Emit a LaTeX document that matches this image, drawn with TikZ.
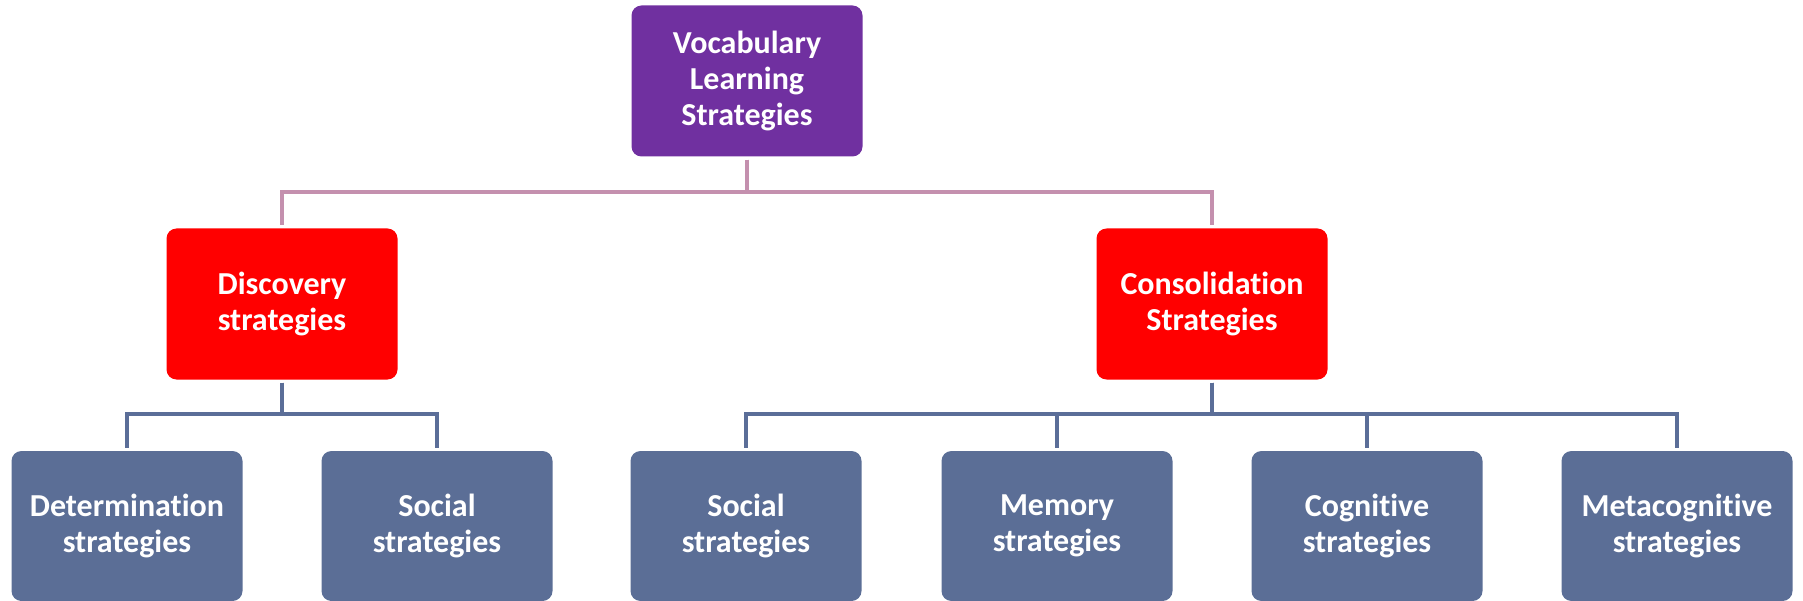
\documentclass[tikz,border=0pt]{standalone}
\usepackage{fontspec}
\setmainfont{Carlito}[Ligatures={NoCommon}]
\begin{document}
\begin{tikzpicture}[x=1pt,y=1pt,
  box/.style={rounded corners=10pt, minimum width=231pt, minimum height=151pt, inner sep=0pt,
    align=center, text=white, font=\bfseries\fontsize{32}{36}\selectfont},
  topbox/.style={box, fill=vpurple},
  midbox/.style={box, fill=vred},
  leafbox/.style={box, fill=vblue, minimum height=150pt},
  pinkline/.style={draw=vpink, line width=4pt, shorten <=3pt, shorten >=3pt},
  blueline/.style={draw=vblueline, line width=4pt, shorten <=3pt, shorten >=3pt}]
\definecolor{vpurple}{HTML}{7030A0}
\definecolor{vred}{HTML}{FF0000}
\definecolor{vblue}{HTML}{5B6E96}
\definecolor{vpink}{HTML}{C490AE}
\definecolor{vblueline}{HTML}{5B6E98}
\useasboundingbox (0,0) rectangle (1803,-601);
\node[topbox] (top) at (747,-81) {Vocabulary\\Learning\\Strategies};
\node[midbox] (disc) at (282,-304) {Discovery\\strategies};
\node[midbox] (cons) at (1212,-304) {Consolidation\\Strategies};
\node[leafbox] (det) at (127,-526) {Determination\\strategies};
\node[leafbox] (soc1) at (437,-526) {Social\\strategies};
\node[leafbox] (soc2) at (746,-526) {Social\\strategies};
\node[leafbox] (mem) at (1057,-526) {Memory\\strategies};
\node[leafbox] (cog) at (1367,-526) {Cognitive\\strategies};
\node[leafbox] (meta) at (1677,-526) {Metacognitive\\strategies};
\draw[pinkline] (top.south) -- ++(0,-35) -| (disc.north);
\draw[pinkline] (top.south) -- ++(0,-35) -| (cons.north);
\draw[blueline] (disc.south) -- ++(0,-34) -| (det.north);
\draw[blueline] (disc.south) -- ++(0,-34) -| (soc1.north);
\draw[blueline] (cons.south) -- ++(0,-34) -| (soc2.north);
\draw[blueline] (cons.south) -- ++(0,-34) -| (mem.north);
\draw[blueline] (cons.south) -- ++(0,-34) -| (cog.north);
\draw[blueline] (cons.south) -- ++(0,-34) -| (meta.north);
\end{tikzpicture}
\end{document}
